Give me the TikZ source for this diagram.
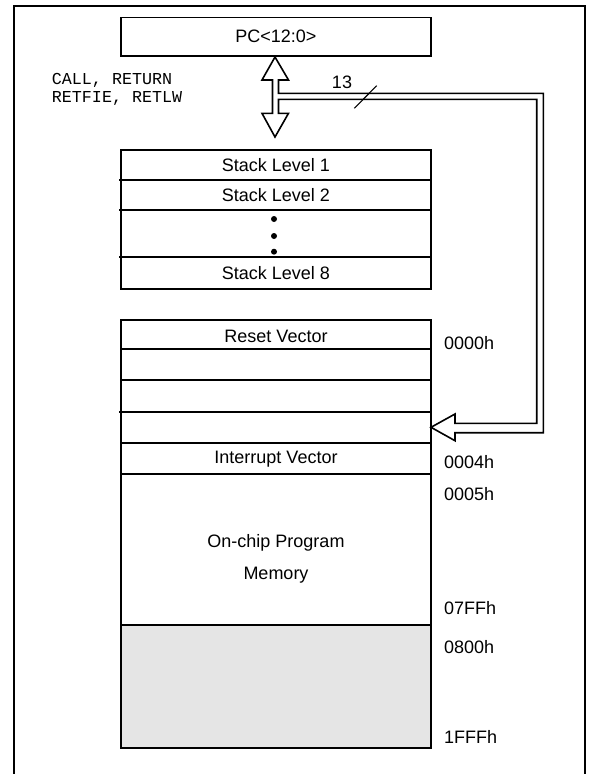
\documentclass[tikz,border=0pt]{standalone}
\usepackage{fontspec}
\setmainfont{Liberation Sans}
\newfontfamily\monofont{Liberation Mono}
\definecolor{memgray}{RGB}{229,229,229}
\begin{document}
\begin{tikzpicture}[x=1pt,y=-1pt,
  box/.style={draw=black,line width=1.8pt},
  lbl/.style={inner sep=0pt,font=\fontsize{18}{21}\selectfont},
  addr/.style={inner sep=0pt,anchor=west,text height=12.9pt,text depth=0pt,font=\fontsize{18}{21}\selectfont},
  mono/.style={inner sep=0pt,anchor=west,text height=9.5pt,text depth=0pt,font=\monofont\fontsize{16.7}{19}\selectfont},
  bus/.style={draw=black,line width=1.6pt,line join=miter}]
\useasboundingbox (0,0) rectangle (589,774);
% outer frame (open at bottom)
\draw[line width=1.8pt] (14,774) -- (14,6) -- (585,6) -- (585,774);

% PC box
\draw[box] (120.7,17.5) rectangle (431,55.7);
\node[lbl] (pc) at (275.8,36.6) {PC<12:0>};

% labels
\node[mono] (call) at (51.7,79.8) {CALL, RETURN};
\node[mono] (retfie) at (51.7,97.5) {RETFIE, RETLW};

% stack
\draw[box] (120.7,150) rectangle (431,289.3);
\draw[box] (119,180) -- (431,180);
\draw[box] (119,210) -- (431,210);
\draw[box] (119,256.7) -- (431,256.7);
\node[lbl] (s1) at (275.8,165) {Stack Level 1};
\node[lbl] (s2) at (275.8,195) {Stack Level 2};
\node[lbl] (s8) at (275.8,273) {Stack Level 8};
\fill (274,219) circle (3);
\fill (274,236) circle (3);
\fill (274,251.7) circle (3);

% memory
\fill[memgray] (121,625) rectangle (431,748.3);
\draw[box] (121,320) rectangle (431,748.3);
\draw[box] (121,349) -- (431,349);
\draw[box] (121,380) -- (431,380);
\draw[box] (119,411.7) -- (431,411.7);
\draw[box] (121,442.7) -- (431,442.7);
\draw[box] (121,474.3) -- (431,474.3);
\draw[box] (121,625) -- (431,625);
\node[lbl] (reset) at (276,336.5) {Reset Vector};
\node[lbl] (intv) at (276,459) {Interrupt Vector};
\node[lbl] (onchip) at (276,542.7) {On-chip Program};
\node[lbl] (mem) at (276,575) {Memory};

\node[addr] (a0) at (444,343) {0000h};
\node[addr] (a4) at (444,461.7) {0004h};
\node[addr] (a5) at (444,494) {0005h};
\node[addr] (a7ff) at (444,608) {07FFh};
\node[addr] (a800) at (444,646.7) {0800h};
\node[addr] (a1fff) at (444,736.7) {1FFFh};

% hollow bus arrow
\draw[bus,fill=white] (272.5,80) -- (262,80) -- (275,57) -- (288.5,80) -- (278.5,80)
  -- (278.5,93.3) -- (543.3,93.3) -- (543.3,432.7) -- (455,432.7) -- (455,440.7)
  -- (431,427.3) -- (455,414) -- (455,423.3) -- (536.7,423.3) -- (536.7,99.3)
  -- (278.5,99.3) -- (278.5,113.3) -- (288.5,113.3) -- (275,137) -- (262,113.3)
  -- (272.5,113.3) -- cycle;

% bus width
\node[lbl] (n13) at (342,82.7) {13};
\draw[line width=1.1pt] (354.3,108.3) -- (376.7,85.7);
\end{tikzpicture}
\end{document}
